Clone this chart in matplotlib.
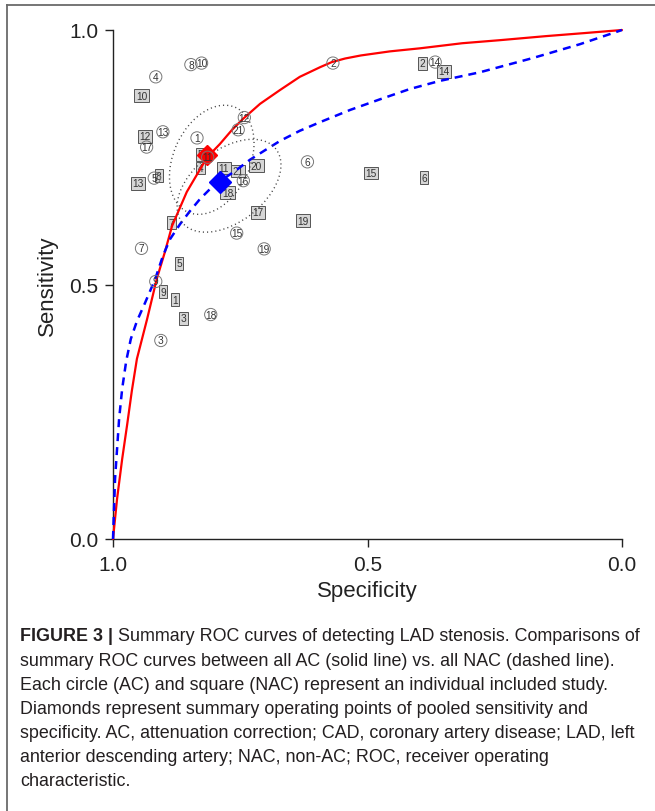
import matplotlib
matplotlib.use("Agg")
import matplotlib.pyplot as plt
from matplotlib.patches import Ellipse
from matplotlib.lines import Line2D

plt.rcParams['font.family'] = ['Liberation Sans', 'DejaVu Sans']

# Summary ROC curves: (specificity, sensitivity) pairs
ac_curve_spec = [1.000, 0.992, 0.982, 0.972, 0.963, 0.953, 0.933, 0.914, 0.898, 0.884,
                 0.855, 0.815, 0.790, 0.766, 0.745, 0.711, 0.672, 0.633, 0.593, 0.570,
                 0.544, 0.513, 0.456, 0.397, 0.314, 0.240, 0.149, 0.073, 0.000]
ac_curve_sens = [0.000, 0.079, 0.157, 0.226, 0.291, 0.354, 0.432, 0.511, 0.564, 0.615,
                 0.682, 0.750, 0.776, 0.804, 0.825, 0.855, 0.882, 0.908, 0.927, 0.937,
                 0.944, 0.950, 0.958, 0.964, 0.974, 0.980, 0.988, 0.994, 1.000]

nac_curve_spec = [1.000, 0.998, 0.996, 0.992, 0.988, 0.982, 0.974, 0.965, 0.953, 0.937,
                  0.917, 0.902, 0.888, 0.868, 0.849, 0.829, 0.809, 0.790, 0.760, 0.731,
                  0.701, 0.672, 0.633, 0.593, 0.534, 0.475, 0.417, 0.358, 0.279, 0.175,
                  0.083, 0.000]
nac_curve_sens = [0.000, 0.059, 0.118, 0.177, 0.236, 0.295, 0.350, 0.393, 0.428, 0.464,
                  0.511, 0.556, 0.589, 0.619, 0.644, 0.668, 0.688, 0.703, 0.723, 0.745,
                  0.764, 0.782, 0.802, 0.819, 0.843, 0.864, 0.884, 0.900, 0.917, 0.945,
                  0.972, 1.000]

# Individual studies, attenuation corrected (AC)
ac_ids = ["1", "2", "3", "4", "5", "6", "7", "8", "9", "10", "11", "12", "13", "14",
          "15", "16", "17", "18", "19", "21"]
ac_spec = [0.835, 0.568, 0.906, 0.916, 0.919, 0.618, 0.944, 0.847, 0.916, 0.826, 0.814,
           0.742, 0.902, 0.367, 0.757, 0.744, 0.934, 0.808, 0.703, 0.754]
ac_sens = [0.788, 0.935, 0.390, 0.908, 0.709, 0.741, 0.571, 0.932, 0.506, 0.935, 0.750,
           0.828, 0.800, 0.937, 0.601, 0.704, 0.770, 0.441, 0.570, 0.804]

# Individual studies, non attenuation corrected (NAC)
nac_ids = ["1", "2", "3", "4", "5", "5", "6", "7", "8", "9", "10", "11", "12", "13",
           "14", "15", "17", "18", "19", "20", "21"]
nac_spec = [0.878, 0.392, 0.862, 0.828, 0.870, 0.829, 0.389, 0.885, 0.910, 0.902, 0.944,
            0.782, 0.938, 0.951, 0.350, 0.493, 0.715, 0.775, 0.627, 0.718, 0.754]
nac_sens = [0.470, 0.935, 0.434, 0.729, 0.542, 0.756, 0.710, 0.621, 0.714, 0.486, 0.871,
            0.729, 0.791, 0.699, 0.919, 0.719, 0.642, 0.680, 0.625, 0.733, 0.723]

# Pooled operating points
ac_summary_spec, ac_summary_sens = 0.815, 0.754
nac_summary_spec, nac_summary_sens = 0.790, 0.701

# Confidence regions: centre, full axis lengths and tilt (data space)
ac_region_center = (0.806, 0.745)
ac_region_axes = (0.226, 0.150)
ac_region_angle = 115
nac_region_center = (0.772, 0.694)
nac_region_axes = (0.234, 0.142)
nac_region_angle = 142

tick_values = [0.0, 0.5, 1.0]
tick_labels = ["0.0", "0.5", "1.0"]

caption_lead = "FIGURE 3 |"
caption_lines = [
    " Summary ROC curves of detecting LAD stenosis. Comparisons of",
    "summary ROC curves between all AC (solid line) vs. all NAC (dashed line).",
    "Each circle (AC) and square (NAC) represent an individual included study.",
    "Diamonds represent summary operating points of pooled sensitivity and",
    "specificity. AC, attenuation correction; CAD, coronary artery disease; LAD, left",
    "anterior descending artery; NAC, non-AC; ROC, receiver operating",
    "characteristic.",
]

W, H = 655, 812
fig = plt.figure(figsize=(W / 100, H / 100), dpi=100)
fig.patch.set_facecolor("white")

ax = fig.add_axes([113 / W, 1 - 540 / H, 509 / W, 509 / H])
ax.set_xlim(1, 0)
ax.set_ylim(0, 1)
for side in ("top", "right"):
    ax.spines[side].set_visible(False)
for side in ("left", "bottom"):
    ax.spines[side].set_linewidth(1.0)
    ax.spines[side].set_color("#222222")
ax.set_xticks(tick_values)
ax.set_xticklabels(tick_labels)
ax.set_yticks(tick_values)
ax.set_yticklabels(tick_labels)
ax.tick_params(direction="out", length=5.5, width=1.0, labelsize=15,
               colors="#222222")
ax.tick_params(axis="x", pad=6)
ax.tick_params(axis="y", pad=5)
ax.set_xlabel("Specificity", fontsize=16, labelpad=4, color="#222222")
ax.set_ylabel("Sensitivity", fontsize=16, labelpad=8, color="#222222")

# NAC study squares
for lab, x, y in zip(nac_ids, nac_spec, nac_sens):
    ax.text(x, y, lab, fontsize=7.3, ha="center", va="center", color="#333333",
            zorder=2,
            bbox=dict(boxstyle="square,pad=0.14", fc="#d6d6d6", ec="#555555", lw=0.7))

# SROC curves
ax.plot(ac_curve_spec, ac_curve_sens, color="#ff0000", lw=1.6, zorder=3,
        clip_on=False, solid_capstyle="round", solid_joinstyle="round")
ax.plot(nac_curve_spec, nac_curve_sens, color="#0000ff", lw=1.8, zorder=3,
        clip_on=False, linestyle=(0, (3.2, 2.4)))

# Confidence regions
for c, (w, h), ang in ((ac_region_center, ac_region_axes, ac_region_angle),
                       (nac_region_center, nac_region_axes, nac_region_angle)):
    ax.add_patch(Ellipse(c, w, h, angle=ang, fill=False, ec="#444444", lw=1.0,
                         ls=(0, (0.8, 2.2)), zorder=3))

# Summary operating points
ax.plot([ac_summary_spec], [ac_summary_sens], marker="D", ms=10.5, color="#ff0000",
        mec="#ff0000", zorder=4, lw=0)
ax.plot([nac_summary_spec], [nac_summary_sens], marker="D", ms=11.5, color="#0000ff",
        mec="#0000ff", zorder=4, lw=0)

# AC study circles
ax.scatter(ac_spec, ac_sens, s=78, facecolors="none", edgecolors="#777777",
           linewidths=0.7, zorder=5)
for lab, x, y in zip(ac_ids, ac_spec, ac_sens):
    ax.text(x, y, lab, fontsize=7.3, ha="center", va="center", color="#333333",
            zorder=6)

# Figure frame
fig.add_artist(Line2D([7 / W, 7 / W], [0, 1 - 6 / H], color="#6a6a6a", lw=1.3))
fig.add_artist(Line2D([7 / W, 1], [1 - 6 / H, 1 - 6 / H], color="#6a6a6a", lw=1.3))

# Caption
cap_size = 12.9
cap_color = "#231f20"
line_y = [637, 661, 686, 710, 734, 758, 782]
lead = fig.text(20 / W, 1 - line_y[0] / H, caption_lead, fontsize=cap_size,
                fontweight="bold", color=cap_color, va="center", ha="left")
fig.canvas.draw()
bb = lead.get_window_extent(fig.canvas.get_renderer())
fig.text(bb.x1 / W, 1 - line_y[0] / H, caption_lines[0], fontsize=cap_size,
         color=cap_color, va="center", ha="left")
for txt, yy in zip(caption_lines[1:], line_y[1:]):
    fig.text(20 / W, 1 - yy / H, txt, fontsize=cap_size, color=cap_color,
             va="center", ha="left")

fig.savefig("out.png", dpi=100, facecolor="white")
